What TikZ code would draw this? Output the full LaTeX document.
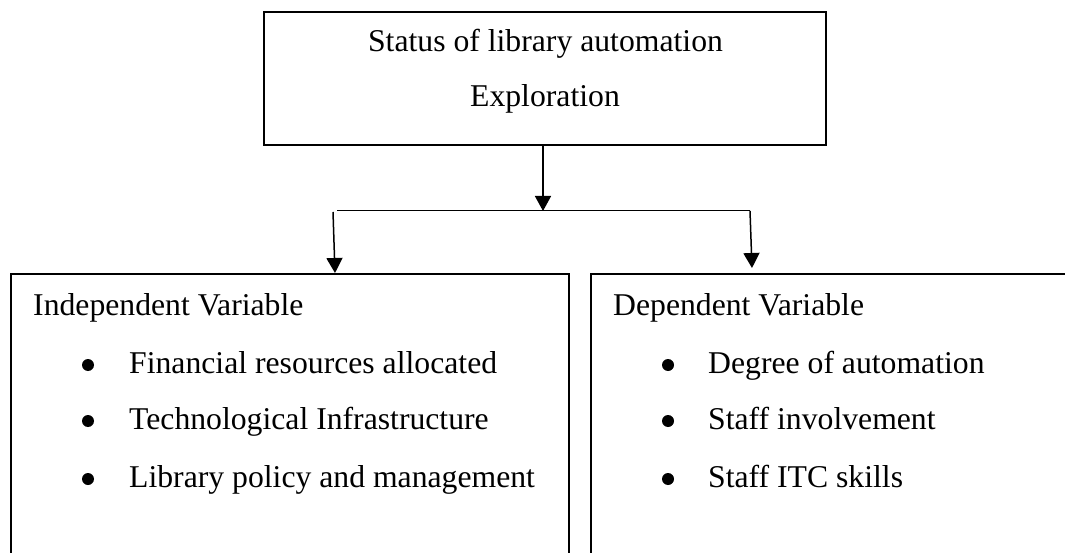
\documentclass[tikz,border=0pt]{standalone}
\usepackage{fontspec}
\setmainfont{Liberation Serif}
\usetikzlibrary{arrows.meta}

\begin{document}
\begin{tikzpicture}[x=1pt,y=-1pt,
  txt/.style={inner sep=0pt, font=\fontsize{31.7}{38}\selectfont},
  dot/.style={circle, fill=black, inner sep=0pt, minimum size=12pt},
  boxline/.style={line width=1.4pt, line join=miter},
  arr/.style={line width=1.5pt, -{Triangle[width=16pt,length=15pt]}},
  branch/.style={line width=1pt}]

  \useasboundingbox (0,0) rectangle (1065,553);

  % heading box
  \node[draw, line width=1.6pt, minimum width=562pt, minimum height=133pt,
        inner sep=0pt] (top) at (545,78.5) {};
  \node[txt, anchor=base] (t1) at (545.5,52) {Status of library automation};
  \node[txt, anchor=base] (t2) at (545,107) {Exploration};

  % open boxes for the two groups of variables
  \draw[boxline] (11,553) -- (11,274) -- (569,274) -- (569,553);
  \draw[boxline] (591,553) -- (591,274) -- (1065,274);

  \coordinate (indtop) at (335,273);
  \coordinate (deptop) at (752,268);

  % connectors
  \coordinate (j)  at (543,211);
  \coordinate (jl) at (337,211);
  \coordinate (jr) at (750,211);
  \coordinate (sl) at (333,212);
  \draw[arr] ([xshift=-2pt]top.south) -- (j);
  \draw[branch] (jl) -- (jr);
  \draw[arr] (sl) -- (indtop);
  \draw[arr] (jr) -- (deptop);

  % independent variables
  \node[txt, anchor=base west] (ih) at (33,315) {Independent Variable};
  \node[dot] (ib1) at (88,365) {};
  \node[dot] (ib2) at (88,421) {};
  \node[dot] (ib3) at (88,479) {};
  \node[txt, anchor=base west] (i1) at (129,373) {Financial resources allocated};
  \node[txt, anchor=base west] (i2) at (129,429) {Technological Infrastructure};
  \node[txt, anchor=base west] (i3) at (129,487) {Library policy and management};

  % dependent variables
  \node[txt, anchor=base west] (dh) at (613,315) {Dependent Variable};
  \node[dot] (db1) at (668,365) {};
  \node[dot] (db2) at (668,421) {};
  \node[dot] (db3) at (668,479) {};
  \node[txt, anchor=base west] (d1) at (708,373) {Degree of automation};
  \node[txt, anchor=base west] (d2) at (708,429) {Staff involvement};
  \node[txt, anchor=base west] (d3) at (708,487) {Staff ITC skills};
\end{tikzpicture}
\end{document}
